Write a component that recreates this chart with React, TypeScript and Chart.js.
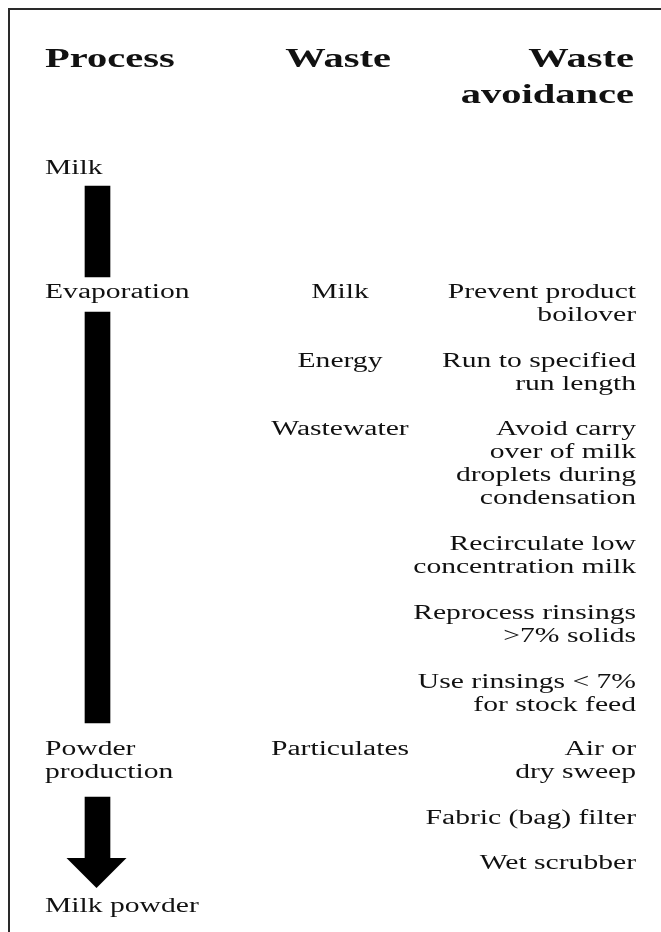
import React, { useEffect, useRef } from "react";
import { Chart, registerables } from "chart.js";

Chart.register(...registerables);

// ---- content ----
const headers: string[][] = [["Process"], ["Waste"], ["Waste", "avoidance"]];
const processSteps: string[][] = [["Milk"], ["Evaporation"], ["Powder", "production"], ["Milk powder"]];
const wastes: string[] = ["Milk", "Energy", "Wastewater", "Particulates"];
const avoidance: string[][] = [
  ["Prevent product", "boilover"],
  ["Run to specified", "run length"],
  ["Avoid carry", "over of milk", "droplets during", "condensation"],
  ["Recirculate low", "concentration milk"],
  ["Reprocess rinsings", ">7% solids"],
  ["Use rinsings < 7%", "for stock feed"],
  ["Air or", "dry sweep"],
  ["Fabric (bag) filter"],
  ["Wet scrubber"],
];
// flow segments between process steps (start, end along the flow axis)
const flowSegments: [number, number][] = [
  [186, 277],
  [312, 723],
  [797, 860],
];
const arrowTip = 888;

// ---- layout (row positions on the vertical axis) ----
const headerRows = [60, 60, 60];
const processRows = [169, 293, 750, 907];
const wasteRows = [293, 362, 430, 750];
const avoidRows = [293, 362, 430, 545, 614, 683, 750, 819, 864];
const LINE = 23;
const COL_PROCESS_X = 45;
const COL_WASTE_X = 340;
const COL_AVOID_X = 636;
const FLOW_X = 97.5;
const STRETCH_BODY = 1.48;
const STRETCH_HEAD = 1.5;
const SERIF = '"Liberation Serif", "Times New Roman", serif';

export default function App() {
  const ref = useRef<HTMLCanvasElement | null>(null);

  useEffect(() => {
    if (!ref.current) return;

    const textPlugin = {
      id: "diagramText",
      afterDatasetsDraw(chart: any) {
        const { ctx, scales } = chart;
        const xs = scales.x;
        const ys = scales.y;
        const px = (v: number) => xs.getPixelForValue(v);
        const py = (v: number) => ys.getPixelForValue(v);

        // frame (top and left rules)
        ctx.save();
        ctx.fillStyle = "#2a2a2a";
        ctx.fillRect(px(8), py(8), chart.width, 2);
        ctx.fillRect(px(8), py(8), 2, chart.height);
        ctx.restore();

        // arrow head
        const seg = flowSegments[flowSegments.length - 1];
        ctx.save();
        ctx.fillStyle = "#000";
        ctx.beginPath();
        ctx.moveTo(px(FLOW_X) - 31, py(seg[1] - 2));
        ctx.lineTo(px(FLOW_X) + 29, py(seg[1] - 2));
        ctx.lineTo(px(FLOW_X - 1), py(arrowTip));
        ctx.closePath();
        ctx.fill();
        ctx.restore();

        const draw = (
          text: string,
          x: number,
          y: number,
          align: CanvasTextAlign,
          bold: boolean
        ) => {
          ctx.save();
          ctx.fillStyle = "#111";
          ctx.font = `${bold ? "bold " : ""}${bold ? 27 : 20}px ${SERIF}`;
          ctx.textAlign = align;
          ctx.textBaseline = "middle";
          ctx.translate(px(x), py(y));
          ctx.scale(bold ? STRETCH_HEAD : STRETCH_BODY, 1);
          ctx.fillText(text, 0, 0);
          ctx.restore();
        };

        // headers
        headers[0].forEach((t, i) => draw(t, COL_PROCESS_X, headerRows[0] + i * 36, "left", true));
        headers[1].forEach((t, i) => draw(t, COL_WASTE_X - 2, headerRows[1] + i * 36, "center", true));
        headers[2].forEach((t, i) => draw(t, COL_AVOID_X - 2, headerRows[2] + i * 36, "right", true));

        processSteps.forEach((lines, k) =>
          lines.forEach((t, i) => draw(t, COL_PROCESS_X, processRows[k] + i * LINE, "left", false))
        );
        wastes.forEach((t, k) => draw(t, COL_WASTE_X, wasteRows[k], "center", false));
        avoidance.forEach((lines, k) =>
          lines.forEach((t, i) => draw(t, COL_AVOID_X, avoidRows[k] + i * LINE, "right", false))
        );
      },
    };

    const chart = new Chart(ref.current, {
      type: "bar",
      data: {
        datasets: [
          {
            type: "bar",
            label: "flow",
            data: flowSegments.map((s) => ({ x: FLOW_X, y: s })) as any,
            backgroundColor: "#000",
            borderWidth: 0,
            barThickness: 25,
            grouped: false,
          } as any,
        ],
      },
      options: {
        responsive: false,
        animation: false,
        events: [],
        layout: { padding: 0 },
        plugins: {
          legend: { display: false },
          tooltip: { enabled: false },
          title: { display: false },
        },
        scales: {
          x: { type: "linear", min: 0, max: 661, offset: false, display: false },
          y: { type: "linear", min: 0, max: 932, reverse: true, display: false },
        },
      },
      plugins: [textPlugin],
    });

    return () => chart.destroy();
  }, []);

  return (
    <div style={{ position: "absolute", left: 0, top: 0, width: 661, height: 932, background: "#fff" }}>
      <canvas ref={ref} width={661} height={932} style={{ display: "block" }} />
    </div>
  );
}
